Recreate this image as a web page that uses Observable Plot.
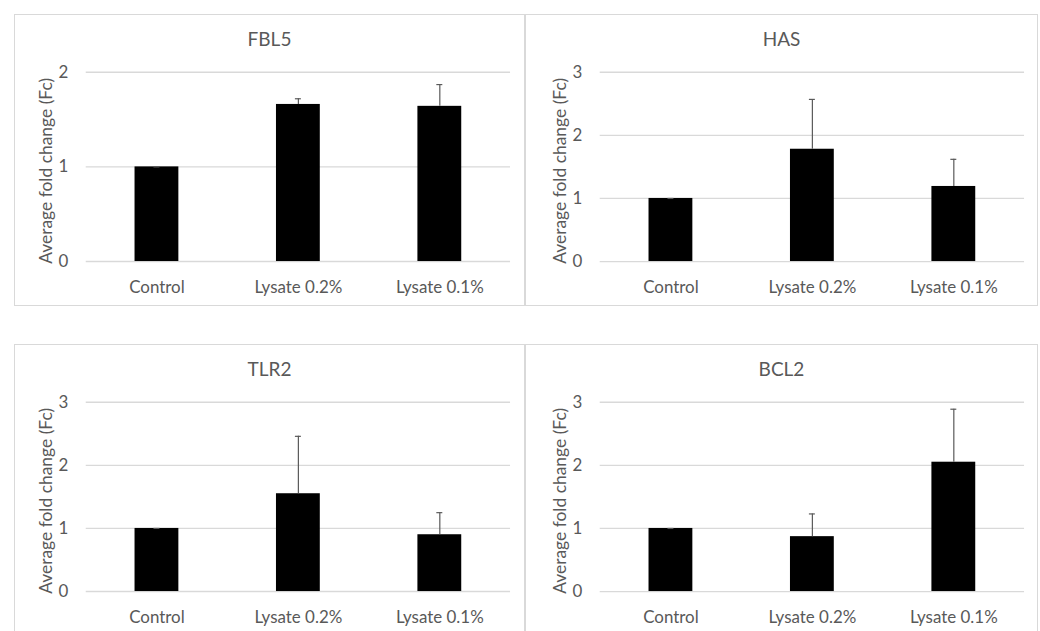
<!DOCTYPE html>
<html>
<head>
<meta charset="utf-8">
<script src="https://cdn.jsdelivr.net/npm/d3@7"></script>
<script src="https://cdn.jsdelivr.net/npm/@observablehq/plot@0.6"></script>
<style>
  html, body { margin: 0; padding: 0; background: #fff; }
  #root { position: relative; width: 1040px; height: 631px; overflow: hidden; font-family: Lato, "Open Sans", sans-serif; }
  .panel { position: absolute; box-sizing: border-box; border: 1px solid #d9d9d9; background: #fff; }
  .panel svg { position: absolute; left: -1px; top: -1px; }
  .title { position: absolute; left: 0; right: 0; top: 13px; text-align: center; font-size: 19px; line-height: 22px; color: #595959; }
</style>
</head>
<body>
<div id="root"></div>
<script>
const categories = ["Control", "Lysate 0.2%", "Lysate 0.1%"];
const genes = ["FBL5", "HAS", "TLR2", "BCL2"];
const fbl5Mean = [1.00, 1.66, 1.64];
const fbl5Err  = [0.00, 0.06, 0.23];
const hasMean  = [1.00, 1.78, 1.19];
const hasErr   = [0.00, 0.79, 0.43];
const tlr2Mean = [1.00, 1.55, 0.90];
const tlr2Err  = [0.00, 0.91, 0.35];
const bcl2Mean = [1.00, 0.87, 2.05];
const bcl2Err  = [0.00, 0.36, 0.84];
const yMax = [2, 3, 3, 3];
const yLabel = "Average fold change (Fc)";

const means = [fbl5Mean, hasMean, tlr2Mean, bcl2Mean];
const errs = [fbl5Err, hasErr, tlr2Err, bcl2Err];

const panels = [
  {left: 14, top: 14, width: 511, mL: 72, mR: 13},
  {left: 525, top: 14, width: 513, mL: 75, mR: 12},
  {left: 14, top: 344, width: 511, mL: 72, mR: 13},
  {left: 525, top: 344, width: 513, mL: 75, mR: 12}
];

const root = document.getElementById("root");
const textColor = "#595959";

genes.forEach((gene, i) => {
  const p = panels[i];
  const data = categories.map((c, j) => ({cat: c, mean: means[i][j], err: errs[i][j], top: means[i][j] + errs[i][j]}));
  const div = document.createElement("div");
  div.className = "panel";
  div.style.left = p.left + "px";
  div.style.top = p.top + "px";
  div.style.width = p.width + "px";
  div.style.height = "292px";
  const t = document.createElement("div");
  t.className = "title";
  t.textContent = gene;
  div.appendChild(t);

  const ticks = d3.range(0, yMax[i] + 1);
  const chart = Plot.plot({
    width: p.width,
    height: 292,
    marginLeft: p.mL,
    marginRight: p.mR,
    marginTop: 58,
    marginBottom: 44,
    style: {fontFamily: "Lato, 'Open Sans', sans-serif", fontSize: "17px", color: textColor, background: "transparent"},
    x: {domain: categories, paddingInner: 0.69, paddingOuter: 0.345, label: null},
    y: {domain: [0, yMax[i]], label: null},
    marks: [
      Plot.gridY(ticks, {stroke: "#d9d9d9", strokeOpacity: 1, strokeWidth: 1.3}),
      Plot.axisY(ticks, {tickSize: 0, tickPadding: 18, tickFormat: "d", fontSize: 17, fill: textColor, label: null}),
      Plot.axisX({tickSize: 0, tickPadding: 20, fontSize: 17, fill: textColor, label: null}),
      Plot.barY(data, {x: "cat", y: "mean", fill: "#000"}),
      Plot.ruleX(data, {x: "cat", y1: "mean", y2: "top", stroke: "#595959", strokeWidth: 1.2}),
      Plot.tickY(data, {x: "cat", y: "top", stroke: "#595959", strokeWidth: 1.2, insetLeft: 19, insetRight: 19}),
      Plot.text([yLabel], {frameAnchor: "left", text: d => d, rotate: -90, textAnchor: "middle", dx: -40, dy: 4, fontSize: 17.5, fill: textColor})
    ]
  });
  div.appendChild(chart);
  root.appendChild(div);
});
</script>
</body>
</html>
